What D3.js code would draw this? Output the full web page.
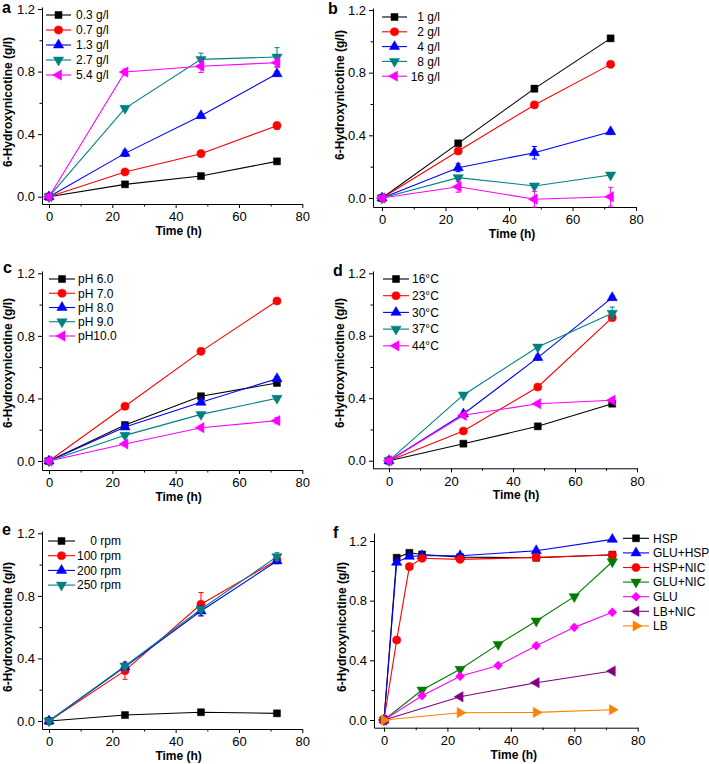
<!DOCTYPE html>
<html lang="en">
<head>
<meta charset="UTF-8">
<title>6-Hydroxynicotine production</title>
<script src="https://cdn.jsdelivr.net/npm/d3@7"></script>
<style>
  body { margin: 0; background: #fff; }
  svg { font-family: "Liberation Sans", Arial, sans-serif; background: #fff; }
  .axis path, .axis line { stroke: #000; stroke-width: 1; }
  .axis text { font-size: 13px; fill: #000; font-family: "Liberation Sans", Arial, sans-serif; }
  .title { font-size: 12px; font-weight: bold; }
  .letter { font-size: 16px; font-weight: bold; }
  .legend text { font-size: 12px; }
</style>
</head>
<body>
<svg id="fig" width="709" height="764"></svg>
<script>
// sampling times (h)
const hours = [0, 24, 48, 72];
const hoursEarly = [0, 4, 8, 12, 24, 48, 72];
const hoursGlu = [0, 12, 24, 36, 48, 60, 72];

const yMajor = [0, 0.4, 0.8, 1.2];
const yMinor = [0.2, 0.6, 1.0];
const xMajor = [0, 20, 40, 60, 80];
const xMinor = [10, 30, 50, 70];

// a
const aLabels = ["0.3 g/l", "0.7 g/l", "1.3 g/l", "2.7 g/l", "5.4 g/l"];
const aValues = [
  [0, 0.079, 0.132, 0.226],
  [0, 0.158, 0.275, 0.454],
  [0, 0.277, 0.518, 0.786],
  [0, 0.565, 0.878, 0.893],
  [0, 0.797, 0.834, 0.857]
];
const aErrors = [
  [0, 0.006, 0.008, 0.008],
  [0, 0.008, 0.01, 0.022],
  [0, 0.02, 0.015, 0.015],
  [0, 0.01, 0.04, 0.06],
  [0, 0.02, 0.04, 0.03]
];

// b
const bLabels = ["1 g/l", "2 g/l", "4 g/l", "8 g/l", "16 g/l"];
const bValues = [
  [0, 0.349, 0.698, 1.019],
  [0, 0.300, 0.594, 0.853],
  [0, 0.193, 0.289, 0.423],
  [0, 0.130, 0.077, 0.147],
  [0, 0.072, -0.008, 0.008]
];
const bErrors = [
  [0, 0.01, 0.02, 0.015],
  [0, 0.01, 0.01, 0.01],
  [0, 0.025, 0.04, 0.015],
  [0, 0.01, 0.01, 0.01],
  [0, 0.035, 0.05, 0.06]
];

// c
const cLabels = ["pH 6.0", "pH 7.0", "pH 8.0", "pH 9.0", "pH10.0"];
const cValues = [
  [0, 0.230, 0.414, 0.499],
  [0, 0.350, 0.701, 1.023],
  [0, 0.217, 0.375, 0.526],
  [0, 0.164, 0.298, 0.401],
  [0, 0.109, 0.213, 0.258]
];
const cErrors = [
  [0, 0.015, 0.012, 0.012],
  [0, 0.01, 0.015, 0.015],
  [0, 0.01, 0.01, 0.015],
  [0, 0.01, 0.01, 0.01],
  [0, 0.01, 0.01, 0.02]
];

// d
const dLabels = ["16°C", "23°C", "30°C", "37°C", "44°C"];
const dValues = [
  [0, 0.109, 0.220, 0.365],
  [0, 0.190, 0.472, 0.916],
  [0, 0.299, 0.660, 1.044],
  [0, 0.421, 0.728, 0.944],
  [0, 0.291, 0.365, 0.387]
];
const dErrors = [
  [0, 0.005, 0.008, 0.01],
  [0, 0.008, 0.01, 0.012],
  [0, 0.01, 0.015, 0.012],
  [0, 0.01, 0.012, 0.04],
  [0, 0.012, 0.01, 0.012]
];

// e
const eLabels = ["0 rpm", "100 rpm", "200 rpm", "250 rpm"];
const eValues = [
  [0, 0.038, 0.056, 0.049],
  [0, 0.322, 0.746, 1.029],
  [0, 0.347, 0.703, 1.023],
  [0, 0.352, 0.714, 1.051]
];
const eErrors = [
  [0, 0.005, 0.005, 0.005],
  [0, 0.055, 0.075, 0.015],
  [0, 0.015, 0.03, 0.015],
  [0, 0.015, 0.015, 0.025]
];

// f
const fLabels = ["HSP", "GLU+HSP", "HSP+NIC", "GLU+NIC", "GLU", "LB+NIC", "LB"];
const fTimes = [hoursEarly, hoursEarly, hoursEarly, hoursGlu, hoursGlu, hours, hours];
const fValues = [
  [0, 1.088, 1.121, 1.110, 1.092, 1.088, 1.108],
  [0, 1.057, 1.097, 1.101, 1.101, 1.135, 1.211],
  [0, 0.536, 1.028, 1.084, 1.077, 1.090, 1.106],
  [0, 0.201, 0.340, 0.507, 0.664, 0.827, 1.061],
  [0, 0.163, 0.293, 0.366, 0.498, 0.621, 0.722],
  [0, 0.156, 0.250, 0.328],
  [0, 0.049, 0.051, 0.069]
];

const fiveColors = ["#000000", "#ff0000", "#0000ff", "#008080", "#ff00ff"];
const fiveShapes = ["square", "circle", "up", "down", "left"];
const fColors = ["#000000", "#0000ff", "#ff0000", "#007a00", "#ff00ff", "#800080", "#ff8000"];
const fShapes = ["square", "up", "circle", "down", "diamond", "left", "right"];

const panels = [
  {letter: "a", lx: 2, ly: 13, labels: aLabels, values: aValues, errors: aErrors,
   times: aValues.map(() => hours), colors: fiveColors, shapes: fiveShapes,
   frame: {x0: 49, x80: 302.3, axX: 42, y0: 196.7, y12: 9, axY: 204, top: 7}, titleX: 8, titleY: 102,
   legend: {x: 46, len: 25, tx: 76, anchor: "start", y: 15, dy: 15}},
  {letter: "b", lx: 328, ly: 14, labels: bLabels, values: bValues, errors: bErrors,
   times: bValues.map(() => hours), colors: fiveColors, shapes: fiveShapes,
   frame: {x0: 382, x80: 636, axX: 373, y0: 198, y12: 10, axY: 207, top: 8}, titleX: 340, titleY: 95,
   legend: {x: 382, len: 25, tx: 440, anchor: "end", y: 17, dy: 14.8}},
  {letter: "c", lx: 3, ly: 273, labels: cLabels, values: cValues, errors: cErrors,
   times: cValues.map(() => hours), colors: fiveColors, shapes: fiveShapes,
   frame: {x0: 49, x80: 302.3, axX: 42, y0: 461, y12: 273.3, axY: 470, top: 271}, titleX: 8, titleY: 363,
   legend: {x: 49, len: 26, tx: 78, anchor: "start", y: 279, dy: 14.25}},
  {letter: "d", lx: 333, ly: 276, labels: dLabels, values: dValues, errors: dErrors,
   times: dValues.map(() => hours), colors: fiveColors, shapes: fiveShapes,
   frame: {x0: 389, x80: 637, axX: 373, y0: 460.7, y12: 273.3, axY: 468.3, top: 271}, titleX: 340, titleY: 363,
   legend: {x: 383, len: 26, tx: 412, anchor: "start", y: 279, dy: 16.7}},
  {letter: "e", lx: 2, ly: 535, labels: eLabels, values: eValues, errors: eErrors,
   times: eValues.map(() => hours), colors: fiveColors, shapes: fiveShapes,
   frame: {x0: 49, x80: 302.3, axX: 42, y0: 721, y12: 533.3, axY: 729, top: 531}, titleX: 8, titleY: 627,
   legend: {x: 48, len: 27, tx: 121, anchor: "end", y: 541, dy: 14.7}},
  {letter: "f", lx: 333, ly: 538, labels: fLabels, values: fValues, errors: null,
   times: fTimes, colors: fColors, shapes: fShapes,
   frame: {x0: 384, x80: 637.7, axX: 374, y0: 720, y12: 541, axY: 727.7, top: 533}, titleX: 342, titleY: 627,
   legend: {x: 623, len: 26, tx: 653, anchor: "start", y: 538.3, dy: 14.6}}
];

const svg = d3.select("#fig");

function symbolPath(shape) {
  const types = {square: d3.symbolSquare, circle: d3.symbolCircle, diamond: d3.symbolSquare,
    up: d3.symbolTriangle, down: d3.symbolTriangle, left: d3.symbolTriangle, right: d3.symbolTriangle};
  const sizes = {square: 49, circle: 52, diamond: 40, up: 46, down: 46, left: 46, right: 46};
  return d3.symbol().type(types[shape]).size(sizes[shape])();
}
const rotation = {down: 180, left: -90, right: 90, diamond: 45};

function drawMarker(g, x, y, shape, color) {
  g.append("path")
    .attr("d", symbolPath(shape))
    .attr("transform", `translate(${x},${y}) rotate(${rotation[shape] || 0})`)
    .attr("fill", color)
    .attr("stroke", color)
    .attr("stroke-width", 0.5);
}

panels.forEach(p => {
  const f = p.frame;
  const sx = (f.x80 - f.x0) / 80, sy = (f.y0 - f.y12) / 1.2;
  const x = d3.scaleLinear().domain([(f.axX - f.x0) / sx, 80]).range([f.axX, f.x80]);
  const y = d3.scaleLinear().domain([-(f.axY - f.y0) / sy, (f.y0 - f.top) / sy]).range([f.axY, f.top]);
  const g = svg.append("g");

  // axes
  g.append("g").attr("class", "axis").attr("transform", `translate(0,${f.axY})`)
    .call(d3.axisBottom(x).tickValues(xMajor).tickSize(4).tickSizeOuter(0).tickPadding(4));
  g.append("g").attr("class", "axis").attr("transform", `translate(0,${f.axY})`)
    .call(d3.axisBottom(x).tickValues(xMinor).tickSize(2.5).tickSizeOuter(0).tickFormat(""))
    .select(".domain").remove();
  g.append("g").attr("class", "axis").attr("transform", `translate(${f.axX},0)`)
    .call(d3.axisLeft(y).tickValues(yMajor).tickSize(4).tickSizeOuter(0).tickPadding(3)
      .tickFormat(d3.format(".1f")));
  g.append("g").attr("class", "axis").attr("transform", `translate(${f.axX},0)`)
    .call(d3.axisLeft(y).tickValues(yMinor).tickSize(2.5).tickSizeOuter(0).tickFormat(""))
    .select(".domain").remove();

  g.append("text").attr("class", "title")
    .attr("x", x(40) + 3).attr("y", f.axY + 31)
    .attr("text-anchor", "middle").text("Time (h)");
  g.append("text").attr("class", "title")
    .attr("transform", `translate(${p.titleX},${p.titleY}) rotate(-90)`)
    .attr("text-anchor", "middle").attr("dy", "0.35em")
    .text("6-Hydroxynicotine (g/l)");
  g.append("text").attr("class", "letter")
    .attr("x", p.lx).attr("y", p.ly).text(p.letter);

  // series
  p.values.forEach((vals, i) => {
    const pts = vals.map((v, j) => [p.times[i][j], v]);
    const color = p.colors[i];
    const s = g.append("g");
    s.append("path")
      .attr("d", d3.line().x(d => x(d[0])).y(d => y(d[1]))(pts))
      .attr("fill", "none").attr("stroke", color).attr("stroke-width", 1.1);
    if (p.errors) {
      p.errors[i].forEach((e, j) => {
        if (!e) return;
        const cx = x(pts[j][0]);
        const y1 = y(pts[j][1] + e), y2 = y(pts[j][1] - e);
        s.append("line").attr("x1", cx).attr("x2", cx).attr("y1", y1).attr("y2", y2)
          .attr("stroke", color).attr("stroke-width", 1);
        [y1, y2].forEach(yy => s.append("line")
          .attr("x1", cx - 2.5).attr("x2", cx + 2.5).attr("y1", yy).attr("y2", yy)
          .attr("stroke", color).attr("stroke-width", 1));
      });
    }
    pts.forEach(d => drawMarker(s, x(d[0]), y(d[1]), p.shapes[i], color));
  });

  // legend
  const L = p.legend;
  const lg = g.append("g").attr("class", "legend");
  p.labels.forEach((lab, i) => {
    const yy = L.y + i * L.dy;
    lg.append("line").attr("x1", L.x).attr("x2", L.x + L.len).attr("y1", yy).attr("y2", yy)
      .attr("stroke", p.colors[i]).attr("stroke-width", 1.1);
    drawMarker(lg, L.x + L.len / 2, yy, p.shapes[i], p.colors[i]);
    lg.append("text").attr("x", L.tx).attr("y", yy).attr("dy", "0.36em")
      .attr("text-anchor", L.anchor).text(lab);
  });
});
</script>
</body>
</html>
